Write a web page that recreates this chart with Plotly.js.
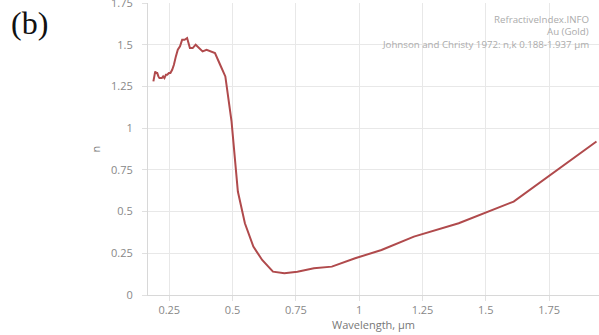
<!DOCTYPE html>
<html>
<head>
<meta charset="utf-8">
<script src="https://cdn.plot.ly/plotly-3.0.1.min.js"></script>
<style>html,body{margin:0;padding:0;background:#fff;}#chart{width:599px;height:335px;}</style>
</head>
<body>
<div id="chart"></div>
<script>
// Au (Gold), Johnson and Christy 1972 — wavelength (µm) and refractive index n
const wavelength = [0.1873,0.1911,0.1946,0.1987,0.2026,0.2070,0.2112,0.2160,0.2206,0.2258,0.2308,0.2366,0.2421,0.2484,0.2545,0.2615,0.2683,0.2761,0.2837,0.2924,0.3009,0.3107,0.3204,0.3315,0.3425,0.3542,0.3679,0.3815,0.3974,0.4133,0.4305,0.4509,0.4714,0.4959,0.5209,0.5486,0.5821,0.6168,0.6595,0.7045,0.7560,0.8211,0.8920,0.9840,1.0880,1.2160,1.3930,1.6100,1.9370];
const nValues   = [1.28,1.32,1.34,1.33,1.33,1.31,1.30,1.30,1.30,1.31,1.30,1.32,1.32,1.33,1.33,1.35,1.38,1.43,1.47,1.49,1.53,1.53,1.54,1.48,1.48,1.50,1.48,1.46,1.47,1.46,1.45,1.38,1.31,1.04,0.62,0.43,0.29,0.21,0.14,0.13,0.14,0.16,0.17,0.22,0.27,0.35,0.43,0.56,0.92];
const xTicks = [0.25,0.5,0.75,1,1.25,1.5,1.75];
const xTickText = ["0.25","0.5","0.75","1","1.25","1.5","1.75"];
const yTicks = [0,0.25,0.5,0.75,1,1.25,1.5,1.75];
const yTickText = ["0","0.25","0.5","0.75","1","1.25","1.5","1.75"];
const infoLines = ["RefractiveIndex.INFO","Au (Gold)","Johnson and Christy 1972: n,k 0.188-1.937 µm"];
const panelLabel = "(b)";

const trace = {
  x: wavelength, y: nValues, type: 'scatter', mode: 'lines',
  line: {color: '#b04a4c', width: 2}, hoverinfo: 'none'
};

const annYs = [19, 32, 44];
const annotations = infoLines.map((t, i) => ({
  text: t, xref: 'paper', yref: 'paper', x: 0.9825, y: (295 - annYs[i]) / 292,
  xanchor: 'right', yanchor: 'middle', showarrow: false,
  font: {family: 'Open Sans, sans-serif', size: 9.7, color: '#ababab'}
}));
annotations.push({
  text: panelLabel, xref: 'paper', yref: 'paper', x: (29 - 148) / 451, y: (295 - 23) / 292,
  xanchor: 'center', yanchor: 'middle', showarrow: false,
  font: {family: 'Liberation Serif, Times New Roman, serif', size: 32, color: '#111'}
});

const layout = {
  width: 599, height: 335,
  margin: {l: 148, r: 0, t: 3, b: 40, pad: 0},
  paper_bgcolor: '#fff', plot_bgcolor: '#fff',
  showlegend: false,
  font: {family: 'Open Sans, sans-serif', size: 11, color: '#888'},
  xaxis: {
    range: [0.166, 1.947], tickvals: xTicks, ticktext: xTickText,
    showgrid: true, gridcolor: '#e8e8e8', gridwidth: 1,
    showline: true, linecolor: '#d8d8d8', linewidth: 1,
    ticks: 'outside', ticklen: 5, tickcolor: '#e0e0e0',
    zeroline: false, ticklabeloverflow: 'allow',
    tickfont: {family: 'Open Sans, sans-serif', size: 11, color: '#888'},
    title: {text: 'Wavelength, µm', font: {family: 'Open Sans, sans-serif', size: 11, color: '#777'}, standoff: 4}
  },
  yaxis: {
    range: [0, 1.75], tickvals: yTicks, ticktext: yTickText,
    showgrid: true, gridcolor: '#e8e8e8', gridwidth: 1,
    showline: true, linecolor: '#d8d8d8', linewidth: 1,
    ticks: 'outside', ticklen: 5, tickcolor: '#e0e0e0',
    ticklabelstandoff: 7, ticklabeloverflow: 'allow',
    zeroline: false,
    tickfont: {family: 'Open Sans, sans-serif', size: 11, color: '#888'},
    title: {text: 'n', font: {family: 'Open Sans, sans-serif', size: 11, color: '#777'}, standoff: 8}
  },
  annotations: annotations
};

Plotly.newPlot('chart', [trace], layout, {staticPlot: true, displayModeBar: false});
</script>
</body>
</html>
